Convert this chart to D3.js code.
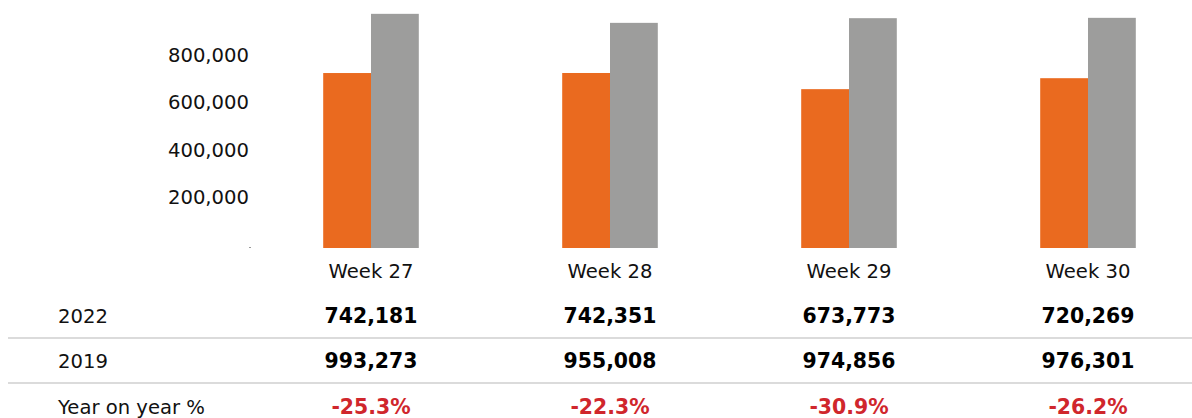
<!DOCTYPE html>
<html>
<head>
    <meta charset="utf-8">
    <script src="https://d3js.org/d3.v7.min.js"></script>
    <style>
        body { margin: 0; background: #fff; }
        text { font-family: "DejaVu Sans", sans-serif; }
        .tick-label { font-size: 19.6px; fill: #111; }
        .row-label { font-size: 19.6px; fill: #111; }
        .val { font-size: 20.4px; font-weight: 700; fill: #000; }
        .yoy { font-size: 20.4px; font-weight: 700; fill: #d0262c; }
    </style>
</head>
<body>
<div id="chart"></div>
<script>
    // data
    const weeks = ["Week 27", "Week 28", "Week 29", "Week 30"];
    const values2022 = [742181, 742351, 673773, 720269];
    const values2019 = [993273, 955008, 974856, 976301];
    const yoy = ["-25.3%", "-22.3%", "-30.9%", "-26.2%"];
    const yTicks = [0, 200000, 400000, 600000, 800000];

    const W = 1192, H = 418;
    const svg = d3.select("#chart").append("svg")
        .attr("width", W).attr("height", H);

    // scales
    const x = d3.scaleBand()
        .domain(weeks)
        .range([251.5, 1207.5])
        .paddingInner(0.6)
        .paddingOuter(0.3);
    const x1 = d3.scaleBand()
        .domain(["2022", "2019"])
        .range([0, x.bandwidth()]);
    const y = d3.scaleLinear()
        .domain([0, 800000])
        .range([248, 59.4]);

    // y labels
    svg.append("g").selectAll("text")
        .data(yTicks.filter(d => d > 0))
        .join("text")
        .attr("class", "tick-label")
        .attr("x", 249)
        .attr("y", d => y(d) - 4)
        .attr("dy", "0.35em")
        .attr("text-anchor", "end")
        .text(d => d3.format(",")(d));

    // tiny zero mark
    svg.append("rect")
        .attr("x", 249).attr("y", y(0) - 1)
        .attr("width", 2).attr("height", 1)
        .attr("fill", "#999");

    // bars
    const groups = svg.append("g").selectAll("g")
        .data(weeks)
        .join("g")
        .attr("transform", d => `translate(${x(d)},0)`);

    groups.append("rect")
        .attr("x", x1("2022"))
        .attr("width", x1.bandwidth())
        .attr("y", (d, i) => y(values2022[i]))
        .attr("height", (d, i) => y(0) - y(values2022[i]))
        .attr("fill", "#ea6a1f");

    groups.append("rect")
        .attr("x", x1("2019"))
        .attr("width", x1.bandwidth())
        .attr("y", (d, i) => y(values2019[i]))
        .attr("height", (d, i) => y(0) - y(values2019[i]))
        .attr("fill", "#9d9d9c");

    // week labels
    const cx = d => x(d) + x.bandwidth() / 2;
    svg.append("g").selectAll("text")
        .data(weeks)
        .join("text")
        .attr("class", "tick-label")
        .attr("x", cx)
        .attr("y", 271)
        .attr("dy", "0.35em")
        .attr("text-anchor", "middle")
        .text(d => d);

    // table
    const rows = [
        { label: "2022", y: 316, cls: "val", vals: values2022.map(d3.format(",")) },
        { label: "2019", y: 361, cls: "val", vals: values2019.map(d3.format(",")) },
        { label: "Year on year %", y: 407, cls: "yoy", vals: yoy }
    ];

    [338, 383].forEach(ly => {
        svg.append("line")
            .attr("x1", 8).attr("x2", W)
            .attr("y1", ly).attr("y2", ly)
            .attr("stroke", "#cfcfcf")
            .attr("stroke-width", 1.5);
    });

    rows.forEach(r => {
        svg.append("text")
            .attr("class", "row-label")
            .attr("x", 58)
            .attr("y", r.y)
            .attr("dy", "0.35em")
            .text(r.label);
        svg.append("g").selectAll("text")
            .data(weeks)
            .join("text")
            .attr("class", r.cls)
            .attr("x", cx)
            .attr("y", r.y)
            .attr("dy", "0.35em")
            .attr("text-anchor", "middle")
            .text((d, i) => r.vals[i]);
    });
</script>
</body>
</html>
